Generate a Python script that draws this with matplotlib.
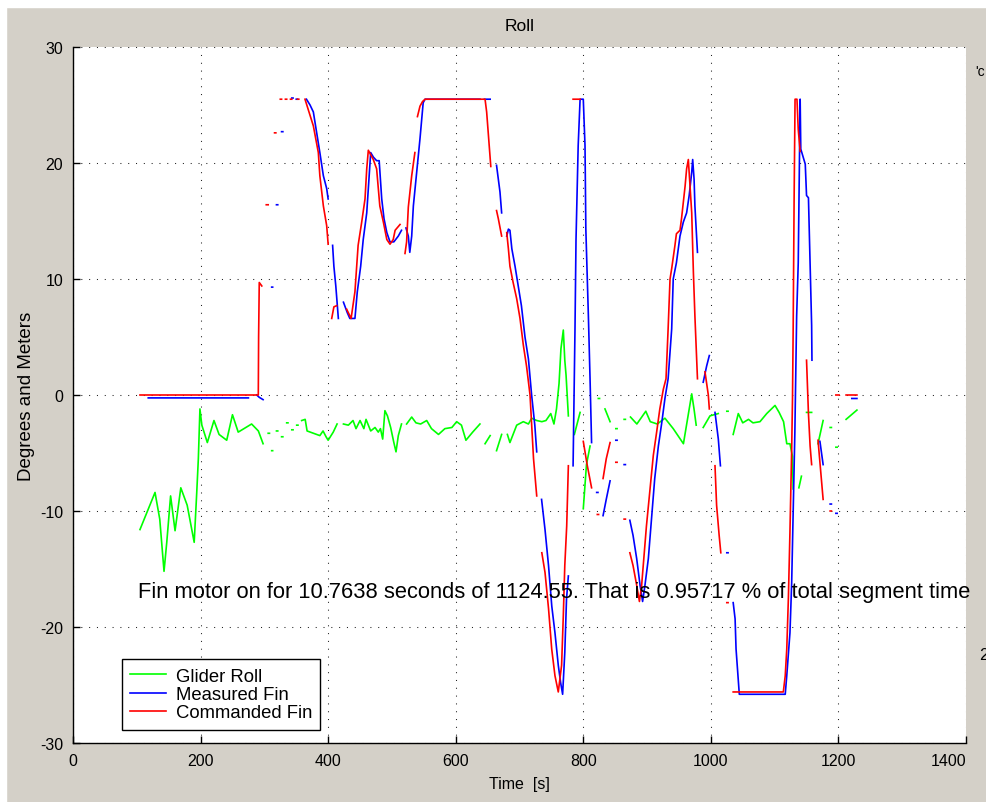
import numpy as np
import matplotlib.pyplot as plt
from matplotlib.patches import Rectangle

plt.rcParams.update({
    'font.family': ['Liberation Sans', 'DejaVu Sans'],
    'font.size': 11,
    'axes.unicode_minus': False,
})

nan = np.nan

# Glider roll (deg), gaps as NaN
roll_t = [105, 128.6, 136, 142.7, 147, 153, 157, 160, 169, 179, 190, 194, 196.5, 199, 202, 210.6, 221, 229, 241,
          250, 259, 280, 290.6, 298, nan,
          306, 308, nan, 311.5, 313, nan, 319, 321, nan, 327, 329, nan, 335, 337, nan, 343, 345, nan, 350.7, 352.7, nan,
          358.5, 364, 367, 376.8, 387, 392, 396.7, 400, 408, 414, nan,
          424, 431.7, 439, 443.7, 450, 456, 459.4, 466.7, 473.5, 478.6, 482, 485.5, 489, 493, 498, 503, 506.4, 510, 515, nan,
          523, 531, 537.7, 545, 554.5, 562, 573, 583, 594, 601.5, 609, 616, 626.6, 638, nan,
          646, 654, nan, 664, 672, nan,
          681, 685, 695.6, 706, 714, 719, 727, 735, 741.5, 749, 754, 758, 762, 765, 768.7, 771, 773, 776.6, nan,
          786, 795, nan, 800, 805, 810.6, nan, 823.6, 825.5, nan, 834, 842, nan, 851, 853, nan, 864, 866, nan,
          874, 884, 898, 905, 916, 928, 941, 957, 970, 973.6, 977, nan,
          988, 998.6, 1011.6, nan, 1025, 1027, nan,
          1035, 1043, 1050, 1059, 1066, 1077, 1087.6, 1100.6, 1107, 1114, 1119, 1124, 1128, 1129, nan,
          1138, 1142, nan, 1150, 1158, nan, 1168, 1172, 1176, nan, 1187, 1189, nan, 1196, 1198, nan, 1212, 1229]
roll = [-11.6, -8.4, -10.7, -15.2, -12.7, -8.7, -10.4, -11.7, -8.0, -9.5, -12.7, -8.4, -5.5, -1.2, -2.6, -4.1, -2.2, -3.4, -3.9,
        -1.7, -3.2, -2.5, -3.1, -4.2, nan,
        -3.3, -3.3, nan, -4.8, -4.8, nan, -3.1, -3.1, nan, -3.6, -3.6, nan, -2.4, -2.4, nan, -3.0, -3.0, nan, -2.6, -2.6, nan,
        -2.2, -2.1, -3.1, -3.3, -3.5, -3.1, -3.6, -3.9, -3.2, -2.5, nan,
        -2.5, -2.6, -2.2, -2.9, -2.2, -2.9, -2.1, -3.1, -2.8, -3.2, -2.9, -3.8, -1.35, -1.8, -2.8, -4.1, -4.9, -3.5, -2.5, nan,
        -2.5, -1.9, -2.4, -2.5, -2.2, -2.9, -3.4, -2.9, -2.8, -2.3, -2.6, -3.9, -3.2, -2.5, nan,
        -4.2, -3.5, nan, -4.8, -3.4, nan,
        -3.4, -4.1, -2.6, -2.3, -2.5, -2.0, -2.2, -2.3, -2.2, -1.6, -2.5, -1.2, 1.0, 4.0, 5.6, 3.0, 1.7, -1.8, nan,
        -3.4, -1.5, nan, -9.8, -6.0, -4.4, nan, -0.3, -0.3, nan, -1.2, -2.3, nan, -2.9, -2.9, nan, -2.1, -2.1, nan,
        -1.9, -2.5, -1.4, -2.3, -2.5, -2.0, -2.9, -4.2, 0.1, -1.2, -2.6, nan,
        -2.8, -1.8, -1.6, nan, -1.4, -1.4, nan,
        -3.4, -1.6, -2.4, -2.1, -2.4, -2.3, -1.6, -0.9, -1.5, -2.3, -4.2, -4.2, -5.3, -8.1, nan,
        -8.0, -7.0, nan, -1.5, -1.5, nan, -4.2, -3.2, -2.2, nan, -2.8, -2.8, nan, -4.5, -4.5, nan, -2.1, -1.3]

# Measured fin (deg)
meas_t = [118, 275, nan, 288, 292, 298, nan,
          311.5, 313, nan, 319, 321, nan, 327, 329, nan, 343, 345, nan, 350, 352, nan,
          366, 371.6, 376.8, 382, 387, 392.5, 397.7, 400, nan,
          407, 409, 412, 416, nan,
          424, 430, 434, 442, 445.7, 451, 455, 460.5, 464.6, 466.7, 471, 476, 480, 484, 487.6, 492, 497, 503, 510, 515, nan,
          522, 525.7, 528, 531, 533.6, 537.7, 541.4, 544, 546.7, 549, 552, 638, nan, 645, 654, nan,
          664, 666.8, 669.4, 672, nan,
          680, 682.6, 685, 688, 693, 698, 703, 708.6, 714, 719, 724, 727, nan,
          734.6, 740, 745.5, 750.6, 755.6, 760.8, 764.5, 767.6, 771, 773.7, 776.6, nan,
          784, 787, 788.6, 792, 795, 800, 802.7, 804, 808, 810.6, 813, nan,
          821, 823, nan, 831, 836, 842, nan, 851, 853, nan, 864, 866, nan,
          873, 878, 883.7, 889, 893, 896.7, 902, 907, 912, 917.7, 923, 928, 933, 938.6, 941, 946, 951.6, 956.8, 962, 966,
          970, 971.5, 973.7, 975, 977.8, 979, nan,
          988, 993.4, 997.6, nan, 1006.5, 1011.7, 1015, nan, 1025, 1027, nan,
          1035, 1038, 1039.5, 1043, 1044.6, 1116.6, 1119, 1124, 1126.7, 1129, 1131.7, 1134.5, 1137, 1140,
          1141, 1148, 1150, 1153, 1155.6, 1158, 1158.5, nan,
          1171, 1176, nan, 1187, 1189, nan, 1196, 1198, nan, 1221, 1229]
meas = [-0.25, -0.25, nan, 0, -0.2, -0.4, nan,
        9.3, 9.3, nan, 16.4, 16.4, nan, 22.7, 22.7, nan, 25.6, 25.6, nan, 25.5, 25.5, nan,
        25.5, 25.0, 24.4, 22.6, 20.9, 18.9, 17.8, 16.9, nan,
        12.9, 11.1, 9.4, 6.6, nan,
        8.0, 7.1, 6.6, 6.6, 8.9, 11.1, 13.4, 15.7, 19.2, 20.9, 20.5, 20.2, 20.2, 16.9, 15.2, 14.0, 13.2, 13.2, 13.7, 14.2, nan,
        14.4, 13.7, 12.3, 13.7, 16.3, 18.6, 20.6, 22.1, 23.8, 25.2, 25.5, 25.5, nan, 25.5, 25.5, nan,
        19.8, 18.6, 17.5, 15.7, nan,
        13.7, 14.3, 14.2, 12.6, 11.1, 9.4, 7.7, 5.0, 3.1, 0, -2.6, -4.9, nan,
        -9.0, -11.6, -14.7, -18.2, -20.5, -23.3, -24.8, -25.8, -22.2, -17.6, -15.6, nan,
        -6.1, 5.7, 13.4, 21.5, 25.5, 25.5, 21.5, 14.3, 6.8, 1.4, -4.1, nan,
        -8.4, -8.4, nan, -10.4, -9.0, -7.4, nan, -3.9, -3.9, nan, -6.0, -6.0, nan,
        -10.8, -12.1, -14.1, -16.4, -17.8, -16.4, -14.1, -10.7, -7.2, -4.4, -2.4, -0.3, 1.4, 5.7, 10.0, 11.4, 13.7, 14.9, 15.7, 17.2,
        19.2, 20.3, 18.6, 16.3, 13.4, 12.3, nan,
        1.1, 2.5, 3.4, nan, -1.5, -3.8, -6.1, nan, -13.6, -13.6, nan,
        -17.9, -19.3, -21.9, -24.5, -25.8, -25.8, -24.2, -20.5, -16.2, -10.4, -3.2, 6.8, 11.4, 25.5,
        21.2, 19.9, 17.2, 17.0, 11.4, 6.0, 3.0, nan,
        -4.0, -6.0, nan, -9.4, -9.4, nan, -10.2, -10.2, nan, -0.3, -0.3]

# Commanded fin (deg)
cmd_t = [105, 290.5, 291, 292, 296, nan,
         303, 306, nan, 316, 318, nan,
         325, 327, nan, 333, 335, nan, 341, 343, nan, 352, 354, nan,
         363.7, 371.6, 376.8, 384.6, 387, 392.5, 397.7, 400, nan,
         405.6, 409, 413.4, nan,
         429, 436, 442, 447, 452.6, 457.8, 460.5, 463, 470.8, 476, 481, 486.6, 492, 497, 502, 505, 512.7, nan,
         520.5, 523, 525.7, 531, 536, nan,
         540, 544, 548, 552, 646, 648.5, 651, 653.8, 655, nan,
         664, 666.8, 672, nan,
         680, 682.6, 685, 690, 695.6, 700.8, 706, 711, 716.5, 722, 727, nan,
         735, 740, 745.5, 750.5, 755.6, 760.8, 766, 768.7, 771, 774, 776.6, nan,
         784, 795, nan, 800, 806, 813, nan, 822, 824, nan, 831, 836, 842, nan, 851, 853, nan, 864, 866, nan,
         873, 878, 883.7, 888, 891.5, 894, 899, 904.6, 909.8, 915, 920, 925.5, 929.7, 933, 936, 938.6, 943.7, 946,
         951.6, 954, 956.8, 959.6, 962, 964.7, 967, 970, 972.6, 975, 977.8, 979, nan,
         990.8, 996, 997.6, nan, 1006.5, 1009, 1013, 1015.6, nan, 1025, 1027, nan,
         1035, 1113.6, 1116.6, 1119, 1121.5, 1124, 1126.7, 1128, 1129, 1130.5, 1132, 1135, 1137, 1140, nan,
         1150, 1153, 1155.6, 1158, nan, 1168, 1172, 1176, nan, 1187, 1189, nan, 1196, 1201, nan, 1212, 1229]
cmd = [0, 0, 5.0, 9.7, 9.4, nan,
       16.4, 16.4, nan, 22.6, 22.6, nan,
       25.5, 25.5, nan, 25.5, 25.5, nan, 25.5, 25.5, nan, 25.5, 25.5, nan,
       25.5, 24.1, 23.2, 20.9, 18.9, 16.3, 14.6, 13.0, nan,
       6.6, 7.6, 7.7, nan,
       7.4, 6.6, 8.9, 12.9, 14.9, 16.9, 19.5, 21.1, 20.3, 19.5, 16.3, 14.9, 13.4, 13.0, 13.4, 14.2, 14.7, nan,
       12.2, 13.2, 16.2, 18.9, 20.9, nan,
       24.0, 24.9, 25.3, 25.5, 25.5, 24.4, 22.6, 20.6, 19.7, nan,
       15.9, 15.2, 13.7, nan,
       14.0, 12.6, 11.1, 9.7, 8.3, 6.6, 4.3, 2.5, 0, -5.5, -8.7, nan,
       -13.6, -15.3, -18.4, -21.9, -24.2, -25.6, -23.3, -19.0, -14.7, -11.3, -6.1, nan,
       25.5, 25.5, nan, -4.0, -6.0, -8.0, nan, -10.3, -10.3, nan, -7.2, -5.5, -4.1, nan, -5.8, -5.8, nan, -10.7, -10.7, nan,
       -13.6, -14.7, -16.4, -17.8, -16.4, -14.7, -11.3, -8.1, -5.2, -3.2, -1.2, 0.5, 1.4, 5.7, 10.0, 10.9, 12.9, 13.9,
       14.2, 15.2, 16.6, 18.0, 19.5, 20.3, 18.3, 15.7, 10.6, 6.8, 3.1, 1.4, nan,
       2.0, 0, -1.2, nan, -6.1, -9.5, -12.1, -13.6, nan, -17.9, -17.9, nan,
       -25.6, -25.6, -24.2, -21.9, -17.6, -11.8, -4.7, -0.3, 5.4, 16.7, 25.5, 25.5, 22.9, 21.0, nan,
       3.0, -1.6, -4.4, -6.0, nan, -3.9, -6.5, -9.0, nan, -10.0, -10.0, nan, 0, 0, nan, 0, 0]

x_ticks = [0, 200, 400, 600, 800, 1000, 1200, 1400]
y_ticks = [-30, -20, -10, 0, 10, 20, 30]
note = 'Fin motor on for 10.7638 seconds of 1124.55. That is 0.95717 % of total segment time'

fig = plt.figure(figsize=(9.87, 8.03), dpi=100, facecolor='#d4d0c8')
# thin white strip along top and left edge of the window grab
fig.patches.append(Rectangle((0, 1 - 8 / 803), 1, 8 / 803, transform=fig.transFigure, color='white', zorder=-1))
fig.patches.append(Rectangle((0, 0), 6 / 987, 1, transform=fig.transFigure, color='white', zorder=-1))

ax = fig.add_axes([73 / 987, 1 - 744 / 803, 893 / 987, 696 / 803])
ax.set_facecolor('white')

ax.plot(roll_t, roll, color='#00ff00', lw=1.2, label='Glider Roll')
ax.plot(meas_t, meas, color='#0000ff', lw=1.2, label='Measured Fin')
ax.plot(cmd_t, cmd, color='#ff0000', lw=1.2, label='Commanded Fin')

ax.set_xlim(0, 1400)
ax.set_ylim(-30, 30)
ax.set_xticks(x_ticks)
ax.set_yticks(y_ticks)
ax.tick_params(direction='in', length=5, width=1, pad=7, labelsize=11.5)
ax.get_xticklabels()[-1].set_horizontalalignment('right')
ax.grid(True, color='#222222', linestyle=(0, (1, 6.5)), linewidth=0.75)
ax.spines['top'].set_visible(False)
ax.spines['right'].set_visible(False)
for s in ('left', 'bottom'):
    ax.spines[s].set_linewidth(1)

ax.set_title('Roll', fontsize=12.5, pad=12)
ax.set_xlabel('Time  [s]', fontsize=11.5, labelpad=6)
ax.set_ylabel('Degrees and Meters', fontsize=13.5, labelpad=4)

ax.text(102, -16.9, note, fontsize=15.75, ha='left', va='center', color='black')

leg = ax.legend(loc='lower left', bbox_to_anchor=(0.055, 0.019), borderaxespad=0, fontsize=13.3,
                fancybox=False, edgecolor='black', framealpha=1, handlelength=1.9,
                handletextpad=0.55, labelspacing=0.08, borderpad=0.45)
leg.get_frame().set_linewidth(1)

# clipped labels of a neighbouring axes at the right border
fig.text(975 / 987, 1 - 72 / 803, "'c", fontsize=10, va='center', ha='left')
fig.text(979 / 987, 1 - 655 / 803, '2', fontsize=12, va='center', ha='left')

fig.savefig('out.png', dpi=100, facecolor=fig.get_facecolor())
